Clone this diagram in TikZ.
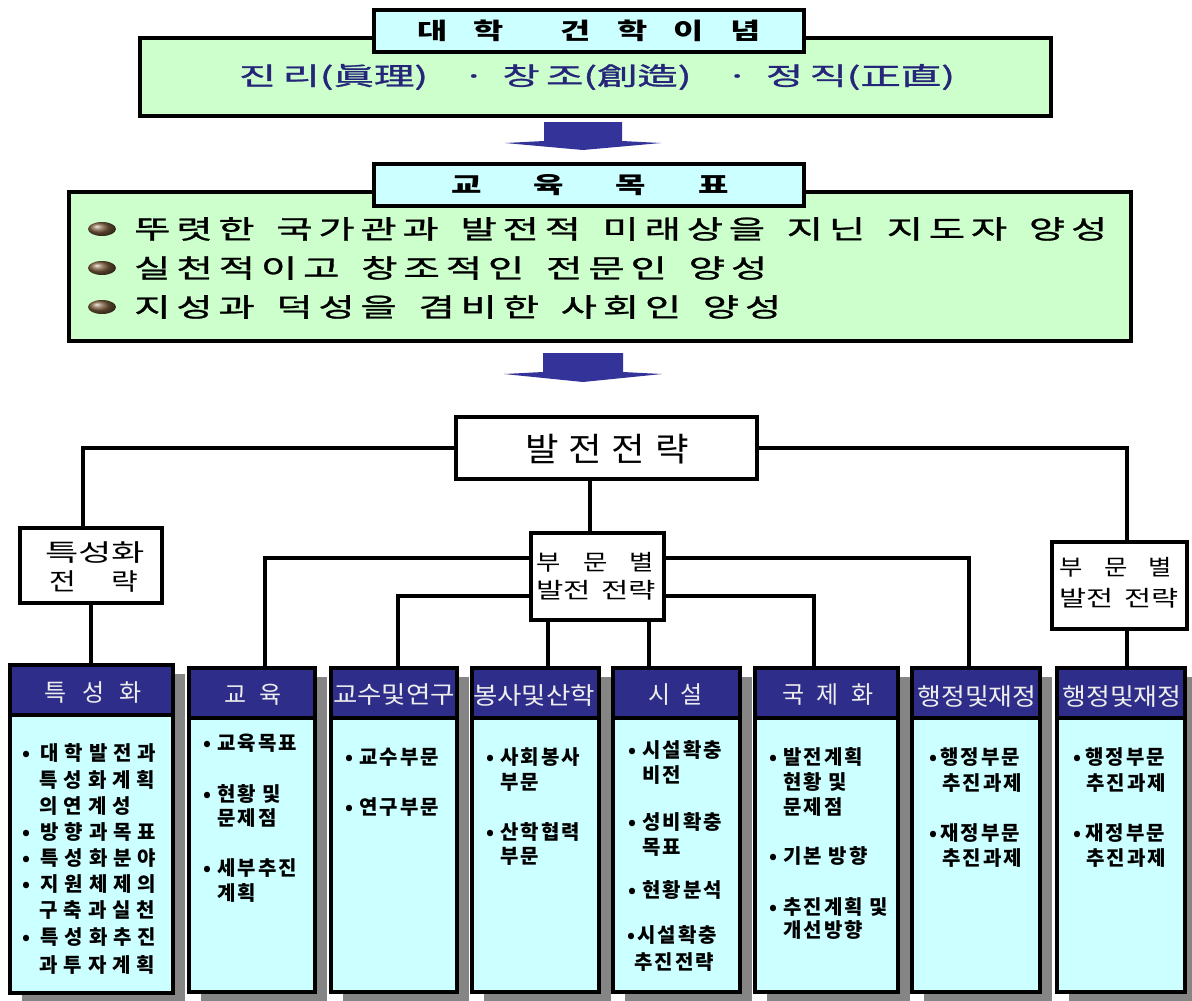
\documentclass[tikz,border=0pt]{standalone}
\usepackage{fontspec}
\usepackage{graphicx}
\usetikzlibrary{fit,shadows}
\setmainfont{Noto Sans CJK KR}
\newfontfamily\kr{Noto Sans CJK KR}
\newfontfamily\krM[FakeBold=1]{Noto Sans CJK KR}
\newfontfamily\krA[LetterSpace=15,FakeBold=1]{Noto Sans CJK KR}
\newfontfamily\krB[LetterSpace=10]{Noto Sans CJK KR}
\newfontfamily\krC[LetterSpace=30]{Noto Sans CJK KR}
\definecolor{lgreen}{HTML}{CCFFCC}
\definecolor{lcyan}{HTML}{CCFFFF}
\definecolor{navyh}{HTML}{2E2E8A}
\definecolor{arrowblue}{HTML}{333399}
\definecolor{mottoblue}{HTML}{25257A}
\definecolor{shadowgray}{HTML}{858585}
\definecolor{ballbrown}{HTML}{7A5C3C}
\newcommand\bul[1][15pt]{\makebox[#1][c]{•}}
\newcommand\fitw[2]{\resizebox{#1}{\height}{#2}}
\newcommand\ws{\ \hspace{3.5pt}}
\newcommand\colcard[6]{%
  \node[colbox, fit={(#2,#3) (#4,#5)}] (#1) {};
  \node[colhead, fit={(#2,#3) (#4,#6)}] (#1h) {};}
\begin{document}
\begin{tikzpicture}[x=0.75pt,y=-0.75pt,
  conn/.style={line width=3pt},
  topbox/.style={draw, line width=3pt, inner sep=0pt},
  whitebox/.style={draw, line width=3pt, fill=white, inner sep=0pt},
  colbox/.style={draw, line width=3.4pt, fill=lcyan, inner sep=0pt,
    drop shadow={shadow xshift=9pt, shadow yshift=-6.75pt, fill=shadowgray, opacity=1}},
  colhead/.style={draw, line width=3.4pt, fill=navyh, inner sep=0pt},
  bighead/.style={inner sep=0pt, font=\kr\bfseries\fontsize{17.25pt}{20pt}\selectfont},
  mottotxt/.style={inner sep=0pt, text=mottoblue, font=\krM\fontsize{18.75pt}{21pt}\selectfont},
  goaltxt/.style={inner sep=0pt, anchor=west, font=\krA\fontsize{19.5pt}{22pt}\selectfont},
  lbl/.style={inner sep=0pt},
  headtxt/.style={inner sep=0pt, text=white!93!black, font=\kr\fontsize{18pt}{20pt}\selectfont},
  bt/.style={anchor=west, inner sep=0pt, font=\krB\bfseries\fontsize{15pt}{17pt}\selectfont, text height=13.2pt, text depth=1.8pt},
  btw/.style={bt, font=\krC\bfseries\fontsize{15pt}{17pt}\selectfont}
]
\useasboundingbox (0,0) rectangle (1192,1000);
\fill[white] (0,0) rectangle (1192,1000);

% ---------- top: founding ideology ----------
\node[topbox, fill=lgreen, fit={(140,38) (1051,116)}] (g1) {};
\node[topbox, fill=lcyan, fit={(374,10) (804,52)}] (h1) {};
\node[bighead] (h1t) at (589,31) {\fitw{258pt}{대\hspace{14pt}학\hspace{29.5pt}건\hspace{14pt}학\hspace{14pt}이\hspace{14pt}념}};
\node[mottotxt] (ml) at (597,77) {\fitw{537pt}{진\hspace{3pt}리(眞理)\hspace{16pt}·\hspace{8pt}창\hspace{3pt}조(創造)\hspace{16pt}·\hspace{8pt}정\hspace{3pt}직(正直)}};

\fill[arrowblue] (544,122) -- (622,122) -- (622,141) -- (661,143) -- (583,150) -- (505,143) -- (544,141) -- cycle;

% ---------- education goals ----------
\node[topbox, fill=lgreen, fit={(69,192) (1131,341)}] (g2) {};
\node[topbox, fill=lcyan, fit={(374,164) (804,206)}] (h2) {};
\node[bighead] (h2t) at (590,185) {\fitw{207.75pt}{교\hspace{27pt}육\hspace{27pt}목\hspace{27pt}표}};
\foreach \yy in {229,268,307}
  \shade[ball color=ballbrown] (102,\yy) ellipse [x radius=14, y radius=7];
\node[goaltxt] (b1) at (134,229) {\fitw{729.75pt}{뚜렷한\ws 국가관과\ws 발전적\ws 미래상을\ws 지닌\ws 지도자\ws 양성}};
\node[goaltxt] (b2) at (134,268) {\fitw{474.75pt}{실천적이고\ws 창조적인\ws 전문인\ws 양성}};
\node[goaltxt] (b3) at (134,307) {\fitw{485.25pt}{지성과\ws 덕성을\ws 겸비한\ws 사회인\ws 양성}};

\fill[arrowblue] (543,353) -- (623,353) -- (623,372) -- (662,374) -- (583,382) -- (504,374) -- (543,372) -- cycle;

% ---------- strategy tree ----------
\node[whitebox, fit={(456,417) (757,479)}] (bj) {};
\node[lbl, font=\kr\fontsize{24.75pt}{28pt}\selectfont] (bjt) at (607,449) {\fitw{123pt}{발\hspace{6.75pt}전\hspace{6.75pt}전\hspace{6.75pt}략}};

\node[whitebox, fit={(20,528) (162,603)}] (ts) {};
\node[lbl, font=\kr\fontsize{18pt}{20pt}\selectfont] (tst1) at (95,553) {\fitw{75pt}{특성화}};
\node[lbl, font=\kr\fontsize{18pt}{20pt}\selectfont] (tst2) at (94,582) {\fitw{66.75pt}{전\hspace{22pt}략}};

\node[whitebox, fit={(531,533) (664,620)}] (bm) {};
\node[lbl, anchor=west, font=\kr\fontsize{16.5pt}{20pt}\selectfont] (bmt1) at (536,562) {\fitw{88.5pt}{부\hspace{14pt}문\hspace{14pt}별}};
\node[lbl, anchor=west, font=\kr\fontsize{16.5pt}{20pt}\selectfont] (bmt2) at (536,590) {\fitw{90pt}{발전\hspace{6pt}전략}};

\node[whitebox, fit={(1052,542) (1187,629)}] (rbm) {};
\node[lbl, anchor=west, font=\kr\fontsize{16.5pt}{20pt}\selectfont] (rbmt1) at (1059,567) {\fitw{84.75pt}{부\hspace{14pt}문\hspace{14pt}별}};
\node[lbl, anchor=west, font=\kr\fontsize{16.5pt}{20pt}\selectfont] (rbmt2) at (1059,598) {\fitw{89.25pt}{발전\hspace{6pt}전략}};

% ---------- bottom cards ----------
\colcard{sp}{10}{665}{173}{993}{715}
\colcard{ed}{189}{668}{315}{992}{718}
\colcard{pr}{331}{668}{457}{992}{718}
\colcard{sv}{472}{668}{599}{992}{718}
\colcard{fa}{613}{668}{740}{992}{718}
\colcard{gl}{755}{668}{898}{992}{718}
\colcard{ad1}{912}{668}{1040}{992}{718}
\colcard{ad2}{1057}{668}{1185}{992}{718}

\node[headtxt] (spt) at (93.5,692) {특\hspace{11.6pt}성\hspace{11.6pt}화};
\node[headtxt] (edt) at (253,695) {교\hspace{9pt}육};
\node[headtxt] (prt) at (394,695) {\fitw{91.5pt}{교수및연구}};
\node[headtxt] (svt) at (534,695) {\fitw{91.5pt}{봉사및산학}};
\node[headtxt] (fat) at (676,695) {시\hspace{7.5pt}설};
\node[headtxt] (glt) at (828,695) {국\hspace{9.4pt}제\hspace{9.4pt}화};
\node[headtxt] (ad1t) at (977,697) {\fitw{89.25pt}{행정및재정}};
\node[headtxt] (ad2t) at (1122,697) {\fitw{89.25pt}{행정및재정}};

% body texts
\node[btw] (sp1) at (12,753) {\bul[21pt]대학발전과};
\node[btw] (sp2) at (39,780) {특성화계획};
\node[btw] (sp3) at (39,806) {의연계성};
\node[btw] (sp4) at (12,832) {\bul[21pt]방향과목표};
\node[btw] (sp5) at (12,858) {\bul[21pt]특성화분야};
\node[btw] (sp6) at (12,884) {\bul[21pt]지원체제의};
\node[btw] (sp7) at (39,910) {구축과실천};
\node[btw] (sp8) at (12,937) {\bul[21pt]특성화추진};
\node[btw] (sp9) at (39,965) {과투자계획};

\node[bt] (ed1) at (197,743) {\bul 교육목표};
\node[bt] (ed2) at (197,794) {\bul 현황 및};
\node[bt] (ed3) at (217,818) {문제점};
\node[bt] (ed4) at (197,868) {\bul 세부추진};
\node[bt] (ed5) at (217,893) {계획};

\node[bt] (pr1) at (339,757) {\bul 교수부문};
\node[bt] (pr2) at (339,807) {\bul 연구부문};

\node[bt] (sv1) at (480,757) {\bul 사회봉사};
\node[bt] (sv2) at (500,782) {부문};
\node[bt] (sv3) at (480,832) {\bul 산학협력};
\node[bt] (sv4) at (500,856) {부문};

\node[bt] (fa1) at (622,750) {\bul 시설확충};
\node[bt] (fa2) at (642,775) {비전};
\node[bt] (fa3) at (622,822) {\bul 성비확충};
\node[bt] (fa4) at (642,847) {목표};
\node[bt] (fa5) at (622,890) {\bul 현황분석};
\node[bt] (fa6) at (625,935) {\bul[9pt]시설확충};
\node[bt] (fa7) at (634,962) {추진전략};

\node[bt] (gl1) at (763,757) {\bul 발전계획};
\node[bt] (gl2) at (783,782) {현황 및};
\node[bt] (gl3) at (783,807) {문제점};
\node[bt] (gl4) at (763,856) {\bul 기본 방향};
\node[bt] (gl5) at (763,907) {\bul 추진계획 및};
\node[bt] (gl6) at (783,930) {개선방향};

\node[bt] (ad11) at (926,757) {\bul[10.5pt]행정부문};
\node[bt] (ad12) at (942,783) {추진과제};
\node[bt] (ad13) at (926,833) {\bul[10.5pt]재정부문};
\node[bt] (ad14) at (942,858) {추진과제};

\node[bt] (ad21) at (1069,757) {\bul[12pt]행정부문};
\node[bt] (ad22) at (1086,783) {추진과제};
\node[bt] (ad23) at (1069,833) {\bul[12pt]재정부문};
\node[bt] (ad24) at (1086,858) {추진과제};

% ---------- connectors ----------
\draw[conn] (bj.west) -| ([xshift=-6pt]ts.north);
\draw[conn] (bj.east) -| ([xshift=5.6pt]rbm.north);
\draw[conn] ([xshift=-5.6pt]bm.north) -- ([xshift=-5.6pt]bm.north |- bj.south);
\draw[conn] (ts.south) -- (ts.south |- sp.north);
\draw[conn] ([yshift=13.9pt]bm.west) -| ([xshift=9.75pt]ed.north);
\draw[conn] ([yshift=-14.6pt]bm.west) -| ([xshift=3pt]pr.north);
\draw[conn] ([xshift=-37.1pt]bm.south) -- ([xshift=-37.1pt]bm.south |- sv.north);
\draw[conn] ([xshift=38.6pt]bm.south) -- ([xshift=38.6pt]bm.south |- fa.north);
\draw[conn] ([yshift=-14.6pt]bm.east) -| ([xshift=-9.75pt]gl.north);
\draw[conn] ([yshift=13.9pt]bm.east) -| ([xshift=-5.25pt]ad1.north);
\draw[conn] ([xshift=5.6pt]rbm.south) -- ([xshift=5.6pt]rbm.south |- ad2.north);
\end{tikzpicture}
\end{document}
